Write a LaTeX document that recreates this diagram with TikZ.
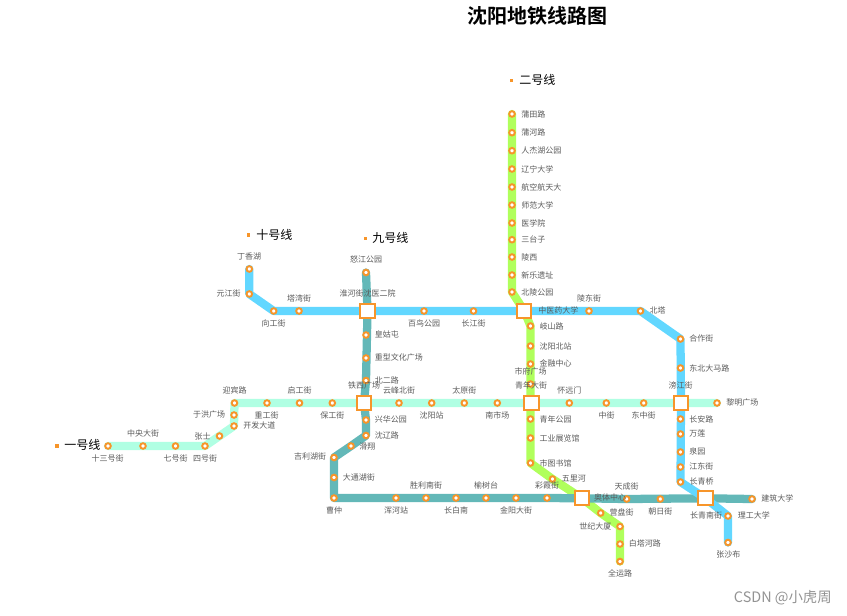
\documentclass[tikz,border=0pt]{standalone}
\usepackage{fontspec}
\setmainfont{Noto Sans CJK SC}
\newfontfamily\cjkbold[BoldFont={Noto Sans CJK SC Bold}]{Noto Sans CJK SC}
\pgfdeclarelayer{lines}
\pgfsetlayers{lines,main}
\definecolor{dotorange}{HTML}{F7952A}
\definecolor{lnmint}{HTML}{B0FFE3}
\definecolor{lngreen}{HTML}{B0FF5C}
\definecolor{lnteal}{HTML}{63B8B8}
\definecolor{lnblue}{HTML}{62D7FF}
\definecolor{lblgray}{HTML}{5A5A5A}
\tikzset{
  stn/.style={circle,draw=dotorange,fill=white,line width=1.45pt,minimum size=4.2pt,inner sep=0pt,outer sep=0pt},
  hub/.style={rectangle,draw=dotorange,fill=white,line width=1.5pt,minimum size=10.6pt,inner sep=0pt,outer sep=0pt},
  lbl/.style={text=lblgray,font=\fontsize{6}{6}\selectfont,inner sep=0pt},
  lbw/.style={lbl,anchor=west},
  legdot/.style={rectangle,fill=dotorange,minimum size=2.4pt,inner sep=0pt},
  legtxt/.style={anchor=west,text=black,font=\fontsize{9}{9}\selectfont,inner sep=0pt},
  metro/.style={line width=6.2pt,line join=round,line cap=round},
}
% name, station position, label position, text
\newcommand\stnC[4]{\node[stn] (#1) at (#2) {}; \node[lbl] (#1t) at (#3) {#4};}
\newcommand\stnW[4]{\node[stn] (#1) at (#2) {}; \node[lbw] (#1t) at (#3) {#4};}
\begin{document}
\begin{tikzpicture}[x=0.75pt,y=-0.75pt]
\useasboundingbox (0,0) rectangle (847,615);
% title and legend
\node[font=\cjkbold\fontsize{15}{15}\selectfont\bfseries,inner sep=0pt] (title) at (537,16) {沈阳地铁线路图};
\node[legdot] (d1) at (57,446) {}; \node[legtxt] (t1) at (64,445) {一号线};
\node[legdot] (d2) at (511.7,80.7) {}; \node[legtxt] (t2) at (519,80) {二号线};
\node[legdot] (d9) at (365.3,238.7) {}; \node[legtxt] (t9) at (372,238) {九号线};
\node[legdot] (d10) at (248.7,235) {}; \node[legtxt] (t10) at (256,235) {十号线};
% line 1
\stnC{a1}{108,446}{107.7,458}{十三号街}
\stnC{a2}{143,446}{143,433}{中央大街}
\stnC{a3}{175.5,446}{175.7,458}{七号街}
\stnC{a4}{205,446}{205,458}{四号街}
\stnC{a5}{219.5,436}{202.7,436.3}{张士}
\stnW{a6}{234,426}{243,425.3}{开发大道}
\stnC{a7}{234,415}{209,414.3}{于洪广场}
\stnC{a8}{234.5,403}{234.7,390.3}{迎宾路}
\stnC{a9}{267,403}{266.7,415.3}{重工街}
\stnC{a10}{299.5,403}{299.7,390.3}{启工街}
\stnC{a11}{332.3,403}{332.3,415.3}{保工街}
\stnC{a12}{399,403}{399,390.3}{云峰北街}
\stnC{a13}{431.7,403}{431.7,415.3}{沈阳站}
\stnC{a14}{464.3,403}{464.3,390.3}{太原街}
\stnC{a15}{497.3,403}{497.3,415.3}{南市场}
\stnC{a16}{569.3,403}{569.3,390.3}{怀远门}
\stnC{a17}{606.3,403}{606.7,415}{中街}
\stnC{a18}{643.7,403}{643.7,415}{东中街}
\stnW{a19}{717,403}{726,402.3}{黎明广场}
% line 2
\stnW{b1}{512,114}{521,114}{蒲田路}
\stnW{b2}{512,132.7}{521,132.7}{蒲河路}
\stnW{b3}{512,150.7}{521,150.7}{人杰湖公园}
\stnW{b4}{512,169}{521,169}{辽宁大学}
\stnW{b5}{512,187}{521,187}{航空航天大}
\stnW{b6}{512,205}{521,205}{师范大学}
\stnW{b7}{512,223}{521,223}{医学院}
\stnW{b8}{512,239.7}{521,239.7}{三台子}
\stnW{b9}{512,257}{521,257}{陵西}
\stnW{b10}{512,275}{521,275}{新乐遗址}
\stnW{b11}{512,292}{521,292}{北陵公园}
\stnW{b12}{530.5,326}{539.3,326.3}{岐山路}
\stnW{b13}{530.5,346}{539.3,346}{沈阳北站}
\stnW{b14}{530.5,364}{539.3,363.3}{金融中心}
\stnC{b15}{530.5,384}{530.7,371}{市府广场}
\stnW{b16}{530.5,419}{539.3,419}{青年公园}
\stnW{b17}{530.5,438}{539.3,438}{工业展览馆}
\stnW{b18}{530.5,463}{539.3,463}{市图书馆}
\stnW{b19}{552.5,479}{561.7,478.3}{五里河}
\stnW{b20}{600.7,513}{609.3,512}{营盘街}
\stnC{b21}{620,526.5}{595.3,526.3}{世纪大厦}
\stnW{b22}{620,544}{628.7,543.3}{白塔河路}
\stnC{b23}{620,561.5}{620,573.7}{全运路}
% line 9
\stnC{c1}{366,272.5}{366,259.3}{怒江公园}
\stnW{c2}{366,335}{374.7,334.7}{皇姑屯}
\stnW{c3}{366,358}{374.7,357.5}{重型文化广场}
\stnW{c4}{366,380.5}{374.7,380}{北二路}
\stnW{c5}{366,420}{374.7,419.7}{兴华公园}
\stnW{c6}{366,435.5}{374.7,435}{沈辽路}
\stnC{c7}{351,446}{367.3,446.3}{滑翔}
\stnC{c8}{334,457.5}{310,456.3}{吉利湖街}
\stnW{c9}{334,477.5}{342.7,477}{大通湖街}
\stnC{c10}{334,498}{334,510.3}{曹仲}
\stnC{c11}{396,498}{396,510.3}{浑河站}
\stnC{c12}{426,498}{426,485}{胜利南街}
\stnC{c13}{456,498}{456,510.3}{长白南}
\stnC{c14}{486,498}{486,485}{榆树台}
\stnC{c15}{516,498}{516,510.3}{金阳大街}
\stnC{c16}{547,498}{547,485}{彩霞街}
\stnC{c17}{626.7,499}{626.7,486}{天成街}
\stnC{c18}{660.3,499}{660.3,511.3}{朝日街}
\stnW{c19}{752,499}{761,498}{建筑大学}
% line 10
\stnC{e1}{249.3,269}{249,256.3}{丁香湖}
\stnC{e2}{249.3,294}{228.7,293.3}{元江街}
\stnC{e3}{273.7,311}{273.7,323.3}{向工街}
\stnC{e4}{299,311}{299,298.3}{塔湾街}
\stnC{e5}{424,311}{424,323.3}{百鸟公园}
\stnC{e6}{473.5,311}{473.5,323.3}{长江街}
\stnC{e7}{589,311}{589,298}{陵东街}
\stnW{e8}{640.5,311}{649.3,310.3}{北塔}
\stnW{e9}{680.5,339}{689,338.3}{合作街}
\stnW{e10}{680.5,368}{689,368.3}{东北大马路}
\stnW{e11}{680.5,419}{689,419}{长安路}
\stnW{e12}{680.5,434}{689,433.7}{万莲}
\stnW{e13}{680.5,452}{689,451.3}{泉园}
\stnW{e14}{680.5,467}{689,466.3}{江东街}
\stnW{e15}{680.5,482}{689.3,481}{长青桥}
\stnW{e16}{728,516}{737.7,515.7}{理工大学}
\stnC{e17}{728,542.5}{728.3,554.3}{张沙布}
% interchange hubs
\node[hub] (h1) at (367.5,311) {}; \node[lbl] (h1t) at (367.7,293.7) {淮河街沈医二院};
\node[hub] (h2) at (524.3,311) {}; \node[lbw] (h2t) at (538,310.3) {中医药大学};
\node[hub] (h3) at (364,403) {}; \node[lbl] (h3t) at (364,385.3) {铁西广场};
\node[hub] (h4) at (531.5,403) {}; \node[lbl] (h4t) at (531,385) {青年大街};
\node[hub] (h5) at (681,403) {}; \node[lbl] (h5t) at (680.7,385.3) {滂江街};
\node[hub] (h6) at (582,498.3) {}; \node[lbl] (h6t) at (610,497) {奥体中心};
\node[hub] (h7) at (705.5,498.3) {}; \node[lbl] (h7t) at (706,515.3) {长青南街};
% watermark
\node[text=gray!85,font=\fontsize{10.8}{11}\selectfont,inner sep=0pt,anchor=east] (wm) at (832,598) {CSDN @小虎周};
% lines
\begin{pgfonlayer}{lines}
\draw[metro,lngreen] (b1.center)--(b11.center)--(h2.center)--(b12.center)--(b18.center)--(b19.center)--(h6.center)--(b20.center)--(b21.center)--(b23.center);
\draw[metro,lnmint] (a1.center)--(a4.center)--(a5.center)--(a6.center)--(a8.center)--(a11.center)--(h3.center)--(a12.center)--(a15.center)--(h4.center)--(a18.center)--(h5.center)--(a19.center);
\draw[metro,lnteal] (c1.center)--(h1.center)--(c4.center)--(h3.center)--(c5.center)--(c6.center)--(c7.center)--(c8.center)--(c10.center)--(c16.center)--(h6.center)--(c17.center)--(h7.center)--(c19.center);
\draw[metro,lnblue] (e1.center)--(e2.center)--(e3.center)--(h1.center)--(h2.center)--(e8.center)--(e9.center)--(h5.center)--(e15.center)--(h7.center)--(e16.center)--(e17.center);
\end{pgfonlayer}
\end{tikzpicture}
\end{document}
